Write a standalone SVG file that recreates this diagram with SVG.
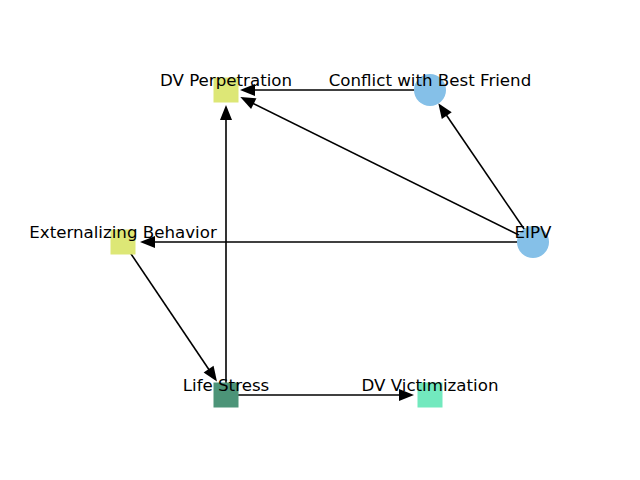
<svg xmlns="http://www.w3.org/2000/svg" width="640" height="480" viewBox="0 0 640 480">
  <style>
    .edge { stroke: #000; stroke-width: 1.6; fill: none; marker-end: url(#arrow); }
    .lbl { font-family: "DejaVu Sans", sans-serif; font-size: 16.67px; fill: #000; text-anchor: middle; }
    .yel { fill: #dde776; }
    .blue { fill: #85c0e8; }
    .dgreen { fill: #4c9478; }
    .mint { fill: #72e9be; }
  </style>
  <defs>
    <marker id="arrow" markerUnits="userSpaceOnUse" markerWidth="15" markerHeight="12" viewBox="0 0 15 12" refX="12" refY="6" orient="auto" overflow="visible">
      <path d="M0,0 L15,6 L0,12 Z" fill="#000"/>
    </marker>
  </defs>
  <rect width="640" height="480" fill="#fff"/>
  <g id="edges">
    <line class="edge" x1="430" y1="90" x2="243" y2="90"/>
    <line class="edge" x1="533" y1="242" x2="243" y2="98.4"/>
    <line class="edge" x1="533" y1="242" x2="440" y2="105.8"/>
    <line class="edge" x1="533" y1="242" x2="143" y2="242"/>
    <line class="edge" x1="123" y1="242" x2="215.3" y2="379"/>
    <line class="edge" x1="226" y1="395" x2="226" y2="108"/>
    <line class="edge" x1="226" y1="395" x2="411" y2="395"/>
  </g>
  <g id="node-dv-perpetration">
    <rect class="yel" x="213.5" y="77.5" width="25" height="25"/>
  </g>
  <g id="node-conflict">
    <circle class="blue" cx="430" cy="90" r="16"/>
  </g>
  <g id="node-eipv">
    <circle class="blue" cx="533" cy="242" r="16"/>
  </g>
  <g id="node-externalizing">
    <rect class="yel" x="110.5" y="229.5" width="25" height="25"/>
  </g>
  <g id="node-life-stress">
    <rect class="dgreen" x="213.5" y="382.5" width="25" height="25"/>
  </g>
  <g id="node-dv-victimization">
    <rect class="mint" x="417.5" y="382.5" width="25" height="25"/>
  </g>
  <g id="labels">
    <text class="lbl" x="226" y="86.2">DV Perpetration</text>
    <text class="lbl" x="430" y="86.2">Conflict with Best Friend</text>
    <text class="lbl" x="533" y="238.2">EIPV</text>
    <text class="lbl" x="123" y="238.2">Externalizing Behavior</text>
    <text class="lbl" x="226" y="391.2">Life Stress</text>
    <text class="lbl" x="430" y="391.2">DV Victimization</text>
  </g>
</svg>
